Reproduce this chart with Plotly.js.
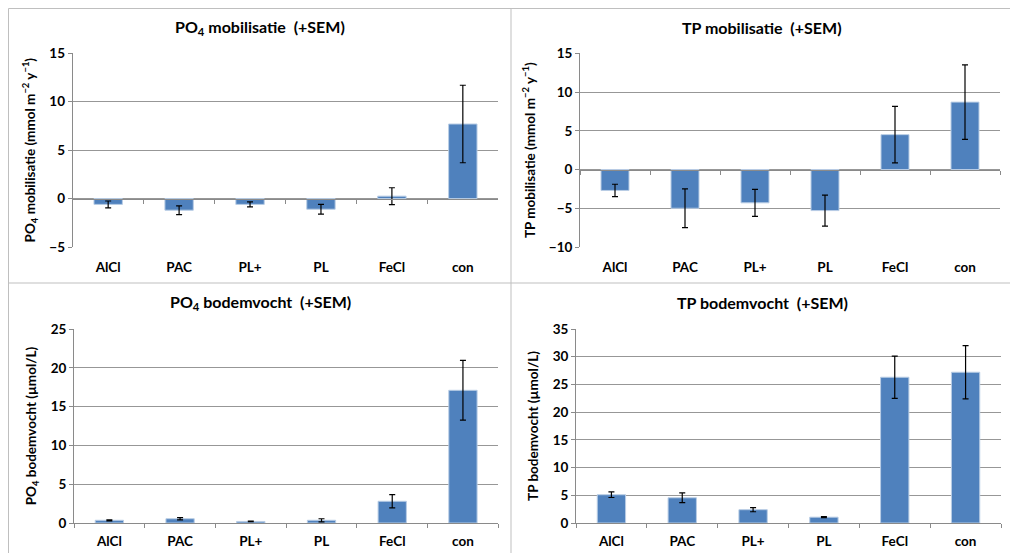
<!DOCTYPE html>
<html>
<head>
<meta charset="utf-8">
<script src="https://cdn.plot.ly/plotly-3.0.1.min.js"></script>
<style>html,body{margin:0;padding:0;background:#fff;}#chart{width:1010px;height:553px;}</style>
</head>
<body>
<div id="chart"></div>
<script>
const categories = ['AlCl', 'PAC', 'PL+', 'PL', 'FeCl', 'con'];

const po4Mobilisatie = [-0.6, -1.2, -0.6, -1.1, 0.25, 7.7];
const po4MobilisatieSem = [0.35, 0.45, 0.25, 0.5, 0.87, 4.0];

const tpMobilisatie = [-2.7, -5.0, -4.3, -5.3, 4.5, 8.7];
const tpMobilisatieSem = [0.8, 2.5, 1.75, 2.0, 3.65, 4.8];

const po4Bodemvocht = [0.35, 0.55, 0.2, 0.35, 2.8, 17.1];
const po4BodemvochtSem = [0.07, 0.15, 0.03, 0.2, 0.85, 3.85];

const tpBodemvocht = [5.1, 4.55, 2.4, 1.05, 26.3, 27.2];
const tpBodemvochtSem = [0.5, 0.87, 0.37, 0.1, 3.8, 4.8];

const titles = [
  'PO<sub>4</sub> mobilisatie  (+SEM)',
  'TP mobilisatie  (+SEM)',
  'PO<sub>4</sub> bodemvocht  (+SEM)',
  'TP bodemvocht  (+SEM)'
];
const yTitles = [
  'PO<sub>4</sub> mobilisatie (mmol m<sup>−2</sup> y<sup>−1</sup>)',
  'TP mobilisatie (mmol m<sup>−2</sup> y<sup>−1</sup>)',
  'PO<sub>4</sub> bodemvocht (µmol/L)',
  'TP bodemvocht (µmol/L)'
];
const yRanges = [[-5, 15], [-10, 15], [0, 25], [0, 35]];

const W = 1010, H = 553;
const FONT = 'Lato, "Open Sans", sans-serif';
const BAR = '#4F81BD';
const GRID = '#979797';
const AXIS = '#8a8a8a';

// panel boxes in pixels: [left, right, top, bottom]
const boxes = [
  [72.7, 498.3, 53.3, 247],
  [580, 1000, 53.3, 247],
  [74, 498.3, 329, 523],
  [576, 1001, 329, 523]
];
const titlePos = [[259.5, 27], [761.7, 27], [260, 302.7], [762.3, 302.7]];

function xdom(b) { return [b[0] / W, b[1] / W]; }
function ydom(b) { return [(H - b[3]) / H, (H - b[2]) / H]; }

const series = [
  [po4Mobilisatie, po4MobilisatieSem],
  [tpMobilisatie, tpMobilisatieSem],
  [po4Bodemvocht, po4BodemvochtSem],
  [tpBodemvocht, tpBodemvochtSem]
];

const data = [];
const layout = {
  width: W, height: H,
  margin: {l: 0, r: 0, t: 0, b: 0},
  paper_bgcolor: '#fff', plot_bgcolor: '#fff',
  showlegend: false,
  bargap: 0.6,
  font: {family: FONT, color: '#000'},
  annotations: [],
  shapes: []
};

series.forEach((s, i) => {
  const n = i + 1;
  const xa = 'x' + (n === 1 ? '' : n);
  const ya = 'y' + (n === 1 ? '' : n);
  data.push({
    type: 'bar', x: categories, y: s[0],
    xaxis: xa, yaxis: ya,
    marker: {color: BAR, line: {color: '#b9cde5', width: 1}},
    error_y: {type: 'data', array: s[1], visible: true, color: '#000', thickness: 1.2, width: 3},
    hoverinfo: 'x+y'
  });
  const b = boxes[i];
  const r = yRanges[i];
  const hasNeg = r[0] < 0;
  const xKey = 'xaxis' + (n === 1 ? '' : n);
  const yKey = 'yaxis' + (n === 1 ? '' : n);
  layout[xKey] = {
    domain: xdom(b), anchor: ya, type: 'category', range: [-0.5, 5.5],
    showgrid: false, zeroline: false,
    showline: !hasNeg, linecolor: AXIS, linewidth: 1,
    ticks: hasNeg ? '' : 'outside', tickson: 'boundaries', ticklen: 4, tickcolor: AXIS,
    tickfont: {family: FONT, size: 13.5, weight: 'bold', color: '#000'},
    ticklabelstandoff: hasNeg ? 10 : 6,
    fixedrange: true
  };
  layout[yKey] = {
    domain: ydom(b), anchor: xa, range: r, dtick: 5,
    showgrid: true, gridcolor: GRID, gridwidth: 1,
    zeroline: false,
    showline: true, linecolor: AXIS, linewidth: 1,
    ticks: 'outside', ticklen: 4, tickcolor: AXIS,
    tickfont: {family: FONT, size: 13.5, weight: 'bold', color: '#000'},
    title: {text: yTitles[i], font: {family: FONT, size: 13.5, weight: 'bold', color: '#000'}, standoff: 10},
    fixedrange: true
  };
  if (hasNeg) {
    // extra category axis drawn along y = 0 with boundary tick marks
    const m = n + 4;
    const dy = ydom(b);
    const pos = dy[0] + (0 - r[0]) / (r[1] - r[0]) * (dy[1] - dy[0]);
    data.push({
      type: 'scatter', mode: 'none', x: categories, y: s[0],
      xaxis: 'x' + m, yaxis: ya, hoverinfo: 'skip', showlegend: false
    });
    layout['xaxis' + m] = {
      domain: xdom(b), overlaying: xa, anchor: 'free', position: pos,
      type: 'category', range: [-0.5, 5.5],
      showgrid: false, zeroline: false,
      showline: true, linecolor: AXIS, linewidth: 1,
      ticks: 'outside', tickson: 'boundaries', ticklen: 4, tickcolor: AXIS,
      showticklabels: false, fixedrange: true
    };
  }
  layout.annotations.push({
    xref: 'paper', yref: 'paper',
    x: titlePos[i][0] / W, y: 1 - titlePos[i][1] / H,
    xanchor: 'center', yanchor: 'middle',
    text: titles[i], showarrow: false,
    font: {family: FONT, size: 16, weight: 'bold', color: '#000'}
  });
});

function hline(py, x0, x1) {
  return {type: 'line', xref: 'paper', yref: 'paper', x0: x0 / W, x1: x1 / W, y0: 1 - py / H, y1: 1 - py / H,
    line: {color: '#bfbfbf', width: 1}};
}
function vline(px, y0, y1) {
  return {type: 'line', xref: 'paper', yref: 'paper', x0: px / W, x1: px / W, y0: 1 - y0 / H, y1: 1 - y1 / H,
    line: {color: '#bfbfbf', width: 1}};
}
layout.shapes.push(hline(8.5, 8.5, 1010));
layout.shapes.push(hline(283, 8.5, 1010));
layout.shapes.push(vline(8.5, 8.5, 553));
layout.shapes.push(vline(511, 8.5, 553));

Plotly.newPlot('chart', data, layout, {displayModeBar: false, staticPlot: true});
</script>
</body>
</html>
